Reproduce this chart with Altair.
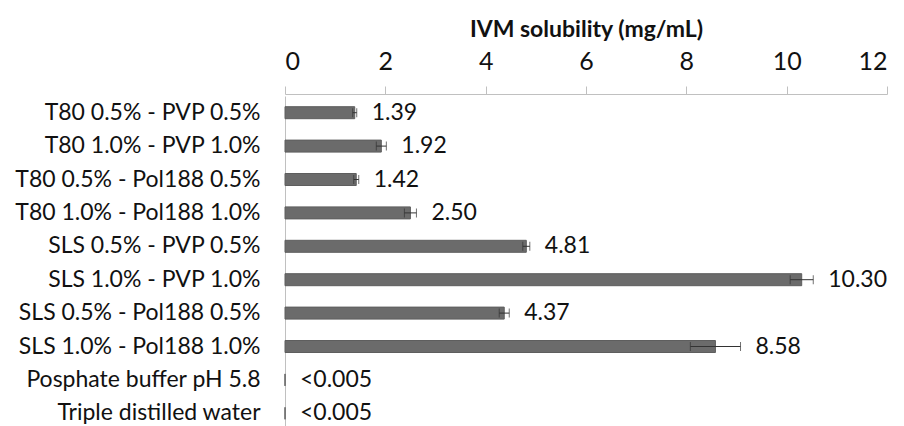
import altair as alt
import pandas as pd

categories = [
    "T80 0.5% - PVP 0.5%",
    "T80 1.0% - PVP 1.0%",
    "T80 0.5% - Pol188 0.5%",
    "T80 1.0% - Pol188 1.0%",
    "SLS 0.5% - PVP 0.5%",
    "SLS 1.0% - PVP 1.0%",
    "SLS 0.5% - Pol188 0.5%",
    "SLS 1.0% - Pol188 1.0%",
    "Posphate buffer pH 5.8",
    "Triple distilled water",
]
values = [1.39, 1.92, 1.42, 2.50, 4.81, 10.30, 4.37, 8.58, 0.0, 0.0]
errors = [0.04, 0.10, 0.05, 0.12, 0.07, 0.23, 0.10, 0.50, 0.0, 0.0]
labels = ["1.39", "1.92", "1.42", "2.50", "4.81", "10.30", "4.37", "8.58", "<0.005", "<0.005"]

df = pd.DataFrame({"cat": categories, "val": values, "err": errors, "lab": labels})
df["lo"] = df["val"] - df["err"]
df["hi"] = df["val"] + df["err"]

FONT = "Lato"
TXT = "#111111"

y_enc = alt.Y("cat:N", sort=categories,
              scale=alt.Scale(paddingInner=0.0, paddingOuter=0.0),
              axis=alt.Axis(title=None, ticks=False, domain=True, domainColor="#c0c0c0",
                            labelFont=FONT, labelFontSize=23, labelColor=TXT,
                            labelPadding=25, labelLimit=400))

x_scale = alt.Scale(domain=[0, 12], nice=False)

base = alt.Chart(df)

bars = base.mark_bar(size=12, color="#6b6b6b", stroke="#5e5e5e", strokeWidth=1).encode(
    x=alt.X("val:Q", scale=x_scale,
            axis=alt.Axis(orient="top", title="IVM solubility (mg/mL)", values=[0, 2, 4, 6, 8, 10, 12],
                          grid=False, domainColor="#c0c0c0", tickColor="#c0c0c0", tickSize=8,
                          offset=2,
                          labelFont=FONT, labelFontSize=25, labelColor=TXT, labelPadding=12,
                          titleFont=FONT, titleFontSize=23, titleFontWeight="bold", titleColor=TXT,
                          titlePadding=8)),
    y=y_enc,
)

err_df_filter = alt.datum.err > 0

whisk = base.transform_filter(err_df_filter).mark_rule(color="#333333", strokeWidth=1).encode(
    x="lo:Q", x2="hi:Q", y=alt.Y("cat:N", sort=categories))
cap_lo = base.transform_filter(err_df_filter).mark_tick(color="#333333", thickness=1, size=9, orient="vertical").encode(
    x="lo:Q", y=alt.Y("cat:N", sort=categories))
cap_hi = base.transform_filter(err_df_filter).mark_tick(color="#333333", thickness=1, size=9, orient="vertical").encode(
    x="hi:Q", y=alt.Y("cat:N", sort=categories))

text = base.mark_text(align="left", baseline="middle", dx=15, font=FONT, fontSize=23, color=TXT).encode(
    x="hi:Q", y=alt.Y("cat:N", sort=categories), text="lab:N")

chart = alt.layer(bars, whisk, cap_lo, cap_hi, text).properties(
    width=602, height=334,
    padding={"left": 285, "top": 96, "right": 17, "bottom": 0},
    autosize=alt.AutoSizeParams(type="none"),
    background="white",
).configure_view(stroke=None)

chart.save("out.html", embed_options={"renderer": "svg", "actions": False})
